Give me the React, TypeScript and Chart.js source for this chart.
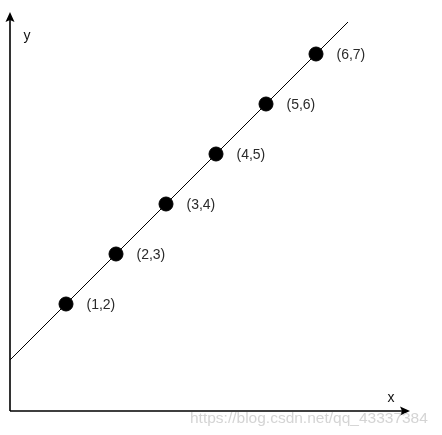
import React, { useEffect, useRef } from "react";
import { Chart, registerables } from "chart.js";

Chart.register(...registerables);

const pointX = [1, 2, 3, 4, 5, 6];
const pointY = [2, 3, 4, 5, 6, 7];
const pointLabels = ["(1,2)", "(2,3)", "(3,4)", "(4,5)", "(5,6)", "(6,7)"];
const lineX = [-0.12, 6.64];
const lineY = [0.88, 7.64];
const axisLabelX = "x";
const axisLabelY = "y";
const watermark = "https://blog.csdn.net/qq_43337384";

const FONT = "'Liberation Sans', Arial, sans-serif";

const decorPlugin = {
  id: "decor",
  afterDatasetsDraw(chart: any) {
    const { ctx, chartArea } = chart;
    const { left, right, top, bottom } = chartArea;
    ctx.save();
    // axes
    ctx.strokeStyle = "#000";
    ctx.lineWidth = 1.6;
    ctx.beginPath();
    ctx.moveTo(left, bottom);
    ctx.lineTo(left, top + 6);
    ctx.moveTo(left, bottom);
    ctx.lineTo(right - 6, bottom);
    ctx.stroke();
    ctx.fillStyle = "#000";
    // y arrow
    ctx.beginPath();
    ctx.moveTo(left, top);
    ctx.lineTo(left + 4.5, top + 10);
    ctx.lineTo(left, top + 8);
    ctx.lineTo(left - 4.5, top + 10);
    ctx.closePath();
    ctx.fill();
    // x arrow
    ctx.beginPath();
    ctx.moveTo(right, bottom);
    ctx.lineTo(right - 10, bottom - 4.5);
    ctx.lineTo(right - 8, bottom);
    ctx.lineTo(right - 10, bottom + 4.5);
    ctx.closePath();
    ctx.fill();
    // axis labels
    ctx.font = `14px ${FONT}`;
    ctx.fillStyle = "#111";
    ctx.textAlign = "center";
    ctx.textBaseline = "middle";
    ctx.fillText(axisLabelY, left + 17, top + 24);
    ctx.fillText(axisLabelX, right - 19, bottom - 13);
    // point labels
    const meta = chart.getDatasetMeta(1);
    ctx.font = `14px ${FONT}`;
    ctx.fillStyle = "#2a2a2a";
    ctx.textAlign = "left";
    meta.data.forEach((el: any, i: number) => {
      ctx.fillText(pointLabels[i], el.x + 20.5, el.y + 1);
    });
    // watermark
    ctx.font = `15.5px ${FONT}`;
    ctx.fillStyle = "rgba(205,205,205,0.85)";
    ctx.textAlign = "left";
    ctx.fillText(watermark, 190, bottom + 8);
    ctx.restore();
  },
};

export default function App() {
  const ref = useRef<HTMLCanvasElement>(null);
  useEffect(() => {
    if (!ref.current) return;
    const chart = new Chart(ref.current, {
      type: "scatter",
      data: {
        datasets: [
          {
            type: "line",
            data: lineX.map((x, i) => ({ x, y: lineY[i] })),
            borderColor: "#000",
            borderWidth: 1,
            pointRadius: 0,
            fill: false,
          },
          {
            data: pointX.map((x, i) => ({ x, y: pointY[i] })),
            backgroundColor: "#000",
            borderColor: "#000",
            pointRadius: 7,
          },
        ],
      },
      options: {
        responsive: false,
        animation: false,
        layout: { padding: { left: 10, right: 32, top: 12, bottom: 24 } },
        plugins: { legend: { display: false }, tooltip: { enabled: false } },
        scales: {
          x: { type: "linear", display: false, min: -0.12, max: 7.88 },
          y: { type: "linear", display: false, min: -0.14, max: 7.84 },
        },
      },
      plugins: [decorPlugin],
    });
    return () => chart.destroy();
  }, []);
  return (
    <div style={{ position: "absolute", left: 0, top: 0, width: 442, height: 435, background: "#fff" }}>
      <canvas ref={ref} width={442} height={435} />
    </div>
  );
}
